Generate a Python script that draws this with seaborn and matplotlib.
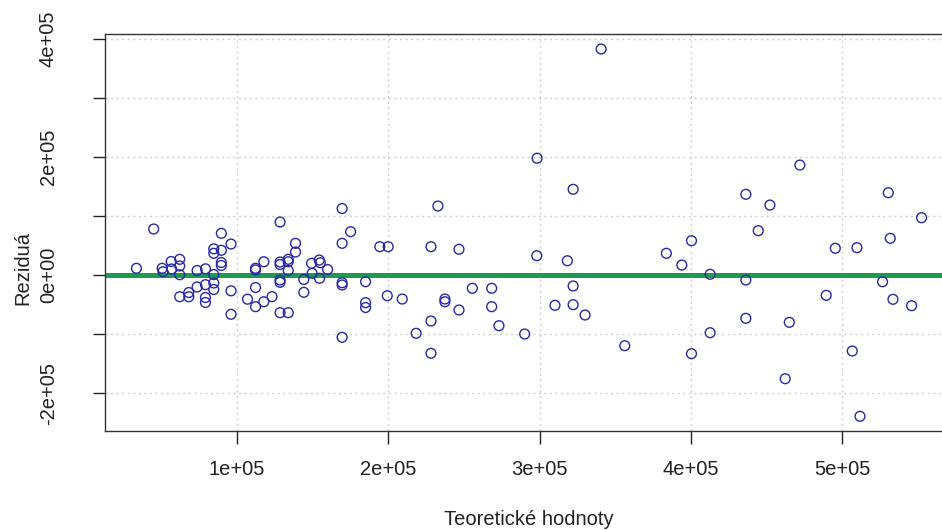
import matplotlib
matplotlib.use("Agg")
import matplotlib.pyplot as plt
import seaborn as sns
import pandas as pd

# fitted values (x) and residuals (y)
fitted = [33700, 45100, 50700, 51300, 56700, 57000, 62300, 62300, 62300, 62300,
          68300, 68300, 73800, 73800, 79300, 79300, 79300, 79300, 84800, 84800,
          84800, 84800, 84800, 89800, 89800, 89800, 89800, 96200, 96200, 96200,
          107100, 112400, 112400, 112400, 112400, 117900, 117900, 123300, 128600, 128600,
          128600, 128600, 128600, 128600, 134000, 134000, 134000, 134000, 138800, 138800,
          144300, 144300, 149400, 149800, 154500, 155200, 154700, 160000, 169600, 169600,
          169600, 169600, 169600, 175200, 185100, 185100, 185100, 194500, 200000, 199400,
          209300, 218500, 228300, 228300, 228300, 232900, 237500, 237500, 246800, 246800,
          255600, 268400, 268400, 273200, 290200, 298200, 322200, 318400, 322200, 322200,
          310200, 330100, 356300, 340700, 298400, 383800, 394000, 400400, 412700, 412700,
          400400, 436300, 452200, 444500, 436300, 436300, 472000, 495400, 509700, 530400,
          552400, 531700, 526600, 489400, 533500, 545800, 465000, 506600, 462300, 511700]
residuals = [11400, 78000, 11400, 5600, 22900, 10200, 26600, 15300, 500, -36800,
             -29700, -36800, -20300, 7600, 10500, -16400, -38100, -46600, 44400, 36800,
             800, -13600, -24600, 70700, 41900, 21200, 16100, 52500, -26800, -66600,
             -41000, 11400, 8500, -21200, -53700, 22500, -45300, -36800, 89800, 22000,
             17800, -8500, -12400, -63900, 26600, 22500, 7600, -63900, 53700, 39000,
             -7600, -29300, 19800, 2900, 25400, 20800, -5600, 9300, 112700, 53700,
             -13100, -16900, -105600, 73400, -11400, -46900, -55100, 48000, 48000, -35100,
             -40700, -98800, 48000, -78000, -132700, 116900, -40700, -45300, 43600, -59300,
             -22500, -22500, -53700, -85900, -100000, 32700, 145300, 24200, -18600, -50300,
             -51400, -67800, -119800, 383100, 198000, 36800, 16900, 58100, 1200, -97800,
             -133400, 136800, 118600, 75100, -8500, -73400, 186400, 45300, 46300, 139500,
             97100, 62200, -11400, -34400, -41200, -52000, -80200, -128800, -175800, -239500]

x_ticks = [100000, 200000, 300000, 400000, 500000]
x_tick_labels = ["1e+05", "2e+05", "3e+05", "4e+05", "5e+05"]
y_ticks = [-200000, -100000, 0, 100000, 200000, 300000, 400000]
y_tick_labels = ["-2e+05", "", "0e+00", "", "2e+05", "", "4e+05"]
ref_level = 0

df = pd.DataFrame({"fitted": fitted, "resid": residuals})

sns.set_theme(style="white")
plt.rcParams["font.family"] = ["Liberation Sans", "DejaVu Sans"]

W, H = 942, 530
fig = plt.figure(figsize=(W / 100, H / 100), dpi=100)
ax = fig.add_axes([105 / W, (H - 431) / H, (953 - 105) / W, (431 - 34.3) / H])

# data range padded 4% like R
xmin, xmax = min(fitted), max(fitted)
ymin, ymax = min(residuals), max(residuals)
dx, dy = (xmax - xmin) * 0.04, (ymax - ymin) * 0.04
ax.set_xlim(xmin - dx, xmax + dx)
ax.set_ylim(ymin - dy, ymax + dy)

ax.set_xticks(x_ticks)
ax.set_xticklabels(x_tick_labels)
ax.set_yticks(y_ticks)
ax.set_yticklabels(y_tick_labels, rotation=90, va="center")

ax.grid(True, color="#cfcfcf", linestyle=(0, (1.5, 2.5)), linewidth=1.0)
ax.set_axisbelow(True)

ax.axhline(ref_level, color="#1c9a50", linewidth=3.6, zorder=2)

sns.scatterplot(data=df, x="fitted", y="resid", ax=ax, marker="o", s=50,
                facecolors="none", edgecolor="#2828aa", linewidth=1.0, zorder=3)

for sp in ax.spines.values():
    sp.set_color("#333333")
    sp.set_linewidth(1.0)

ax.tick_params(axis="both", which="both", direction="out", length=9, width=1.0,
               color="#222222", labelsize=14.5, labelcolor="#222222",
               left=True, bottom=True)
ax.tick_params(axis="x", pad=12)
ax.tick_params(axis="y", pad=25)

ax.set_xlabel("Teoretické hodnoty", fontsize=14.5, color="#222222")
ax.set_ylabel("Reziduá", fontsize=14.5, color="#222222")
ax.xaxis.set_label_coords(0.5, -0.2)
ax.yaxis.set_label_coords(-0.086, 0.41)

fig.savefig("out.png", dpi=100)
